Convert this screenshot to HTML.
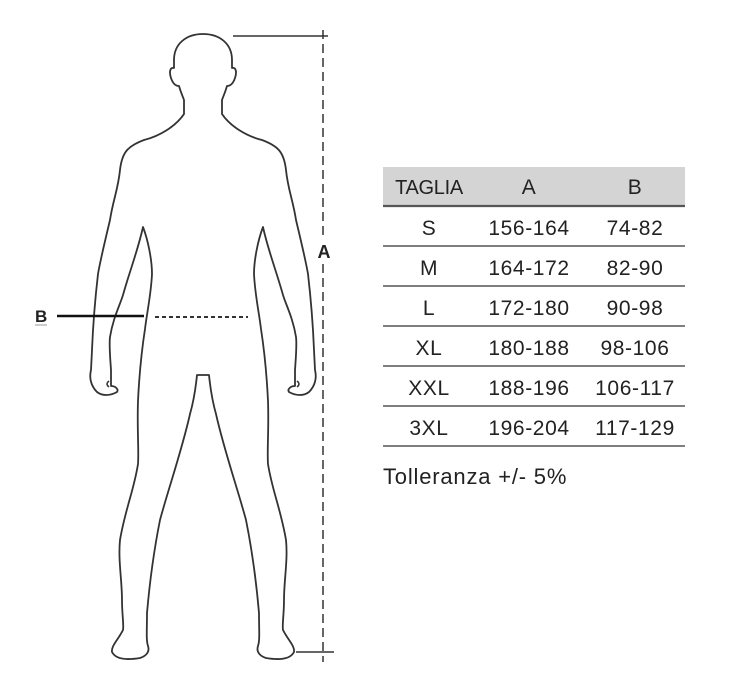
<!DOCTYPE html>
<html><head><meta charset="utf-8"><style>
body{margin:0;background:#fff;width:731px;height:690px;overflow:hidden;font-family:"Liberation Sans",sans-serif;}
svg{position:absolute;left:0;top:0}
</style></head><body>
<svg width="731" height="690" viewBox="0 0 731 690">
<g fill="none" stroke="#333" stroke-width="1.8" stroke-linejoin="round">
<path id="half" d="M203,34 C186,34 174,44 174,60 L174,68 C170,67 169,72 171,78 C173,84 176,86 179,86 C181,93 183,97 184,100 L184,114 C176,126 160,136 144,140 C128,146 122,152 120,170 C118,190 113,200 110,220 C104,245 100,262 98,274 C95,300 93,325 92,350 L91,370 C89,378 91,386 97,392 C102,396 110,396 117,392 C119,389 115,386 111,386 L111,370 C110,355 109,345 110,337 C113,318 120,305 123,295 C130,270 138,250 143,227 C148,240 152,260 152,274 C151,295 147,312 145,329 C141,355 139,380 138,401 C137,430 139,450 138,464 C134,490 125,510 120,540 C118,560 122,580 122,600 C122,615 124,625 123,630 C118,640 111,646 112,652 C116,660 128,660 140,658 C146,656 150,652 148,646 C146,640 147,630 147,613 C149,590 152,560 160,520 C168,490 182,450 190,414 C194,400 196,385 197,375 L203,375"/>
<use href="#half" transform="translate(406,0) scale(-1,1)"/>
<path d="M109,381 q-4,3 0,6 M297,381 q4,3 0,6" stroke-width="1.5"/>
</g>
<g stroke="#333" stroke-width="1.5">
<line x1="233" y1="36" x2="328" y2="36"/>
<line x1="296" y1="652" x2="334" y2="652"/>
<line x1="323" y1="30" x2="323" y2="238" stroke-dasharray="9,5"/>
<line x1="323" y1="264" x2="323" y2="662" stroke-dasharray="9,5"/>
<line x1="57" y1="316" x2="144" y2="316" stroke-width="2.5" stroke="#111"/>
<line x1="155" y1="317" x2="248" y2="317" stroke-dasharray="4,3" stroke-width="2"/>
</g>
<text x="324" y="258" font-size="18" font-weight="bold" fill="#222" text-anchor="middle" font-family="Liberation Sans, sans-serif">A</text>
<text x="35" y="322" font-size="17" font-weight="bold" fill="#222" font-family="Liberation Sans, sans-serif">B</text>
<line x1="35" y1="325" x2="47" y2="325" stroke="#999" stroke-width="1"/>
<rect x="383" y="167" width="302" height="38" fill="#d4d4d4"/>
<g stroke="#555" stroke-width="1.6">
<line x1="383" y1="206" x2="685" y2="206" stroke-width="2.2"/>
<line x1="383" y1="246" x2="685" y2="246"/>
<line x1="383" y1="286" x2="685" y2="286"/>
<line x1="383" y1="326" x2="685" y2="326"/>
<line x1="383" y1="366" x2="685" y2="366"/>
<line x1="383" y1="406" x2="685" y2="406"/>
<line x1="383" y1="446" x2="685" y2="446"/>
</g>
<g font-family="Liberation Sans, sans-serif" font-size="21" fill="#222" text-anchor="middle" letter-spacing="0.6">
<text x="429" y="194" font-size="20" letter-spacing="-0.3">TAGLIA</text><text x="529" y="194">A</text><text x="635" y="194">B</text>
<text x="429" y="235">S</text><text x="529" y="235">156-164</text><text x="635" y="235">74-82</text>
<text x="429" y="275">M</text><text x="529" y="275">164-172</text><text x="635" y="275">82-90</text>
<text x="429" y="315">L</text><text x="529" y="315">172-180</text><text x="635" y="315">90-98</text>
<text x="429" y="355">XL</text><text x="529" y="355">180-188</text><text x="635" y="355">98-106</text>
<text x="429" y="395">XXL</text><text x="529" y="395">188-196</text><text x="635" y="395">106-117</text>
<text x="429" y="435">3XL</text><text x="529" y="435">196-204</text><text x="635" y="435">117-129</text>
<text x="383" y="484" text-anchor="start" font-size="22" letter-spacing="0.8">Tolleranza +/- 5%</text>
</g>
</svg>
</body></html>
